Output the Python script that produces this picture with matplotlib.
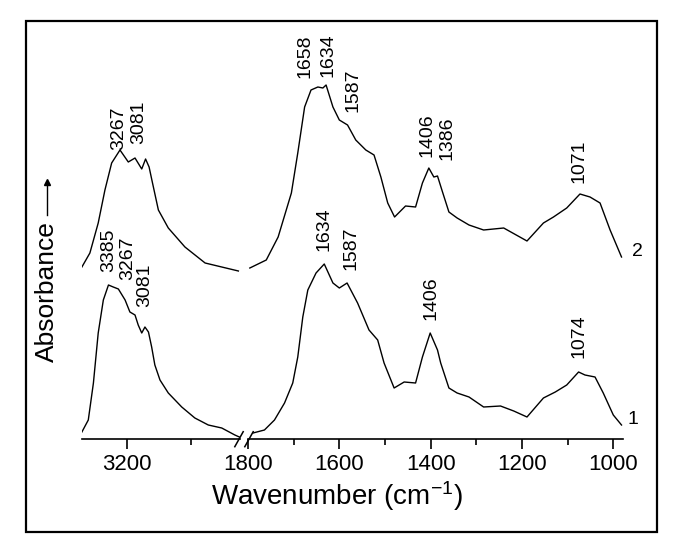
import matplotlib
matplotlib.use("Agg")
import matplotlib.pyplot as plt
from matplotlib.lines import Line2D
from matplotlib.patches import Rectangle

plt.rcParams['font.family'] = ['Liberation Sans', 'DejaVu Sans']
plt.rcParams['mathtext.default'] = 'regular'

# spectrum 1 (bottom trace), high-wavenumber window
wn1_hi = [3340, 3320, 3304, 3289, 3273, 3257, 3242, 3226, 3205, 3190, 3174, 3164,
          3153, 3143, 3132, 3122, 3112, 3096, 3070, 3028, 2987, 2945, 2903, 2862, 2848]
abs1_hi = [0.07, 0.19, 0.56, 1.06, 1.39, 1.54, 1.52, 1.50, 1.39, 1.27, 1.24, 1.14,
           1.06, 1.12, 1.07, 0.92, 0.74, 0.59, 0.46, 0.32, 0.21, 0.14, 0.11, 0.04, 0.02]
# spectrum 1, fingerprint window
wn1_lo = [1789, 1764, 1742, 1720, 1702, 1691, 1680, 1669, 1651, 1633, 1614, 1600,
          1583, 1560, 1535, 1516, 1502, 1480, 1458, 1433, 1418, 1401, 1385, 1378,
          1360, 1342, 1316, 1284, 1247, 1218, 1189, 1153, 1127, 1102, 1076, 1062,
          1040, 1022, 1000, 982]
abs1_lo = [0.06, 0.09, 0.19, 0.36, 0.56, 0.82, 1.22, 1.49, 1.66, 1.75, 1.56, 1.51,
           1.56, 1.36, 1.09, 0.99, 0.76, 0.51, 0.57, 0.56, 0.82, 1.06, 0.89, 0.76,
           0.51, 0.46, 0.42, 0.32, 0.33, 0.28, 0.22, 0.41, 0.47, 0.54, 0.67, 0.64,
           0.62, 0.46, 0.24, 0.14]

# spectrum 2 (top trace, offset), high-wavenumber window
wn2_hi = [3340, 3315, 3289, 3268, 3247, 3221, 3195, 3174, 3153, 3141, 3130, 3120,
          3101, 3070, 3018, 2955, 2903, 2851]
abs2_hi = [1.72, 1.86, 2.16, 2.49, 2.76, 2.89, 2.77, 2.81, 2.70, 2.80, 2.72, 2.57,
           2.29, 2.11, 1.92, 1.76, 1.72, 1.68]
# spectrum 2, fingerprint window
wn2_lo = [1796, 1760, 1734, 1705, 1691, 1676, 1662, 1647, 1636, 1629, 1614, 1600,
          1582, 1564, 1542, 1524, 1509, 1494, 1479, 1455, 1433, 1418, 1404, 1393,
          1385, 1374, 1360, 1342, 1316, 1284, 1240, 1189, 1153, 1131, 1102, 1073,
          1051, 1029, 1007, 982]
abs2_lo = [1.71, 1.79, 2.02, 2.46, 2.86, 3.32, 3.49, 3.52, 3.51, 3.54, 3.32, 3.19,
           3.14, 2.99, 2.89, 2.84, 2.62, 2.36, 2.22, 2.33, 2.32, 2.56, 2.71, 2.62,
           2.63, 2.47, 2.27, 2.21, 2.14, 2.09, 2.11, 1.98, 2.16, 2.22, 2.31, 2.45,
           2.42, 2.36, 2.09, 1.82]

# peak labels: (text, x on the drawn axis, bottom of the label)
labels_hi = [("3385", 3257, 1.67), ("3267", 3197, 1.59), ("3081", 3143, 1.32),
             ("3267", 3225, 2.89), ("3081", 3163, 2.955)]
labels_lo = [("1658", 1675, 3.61), ("1634", 1625, 3.62), ("1587", 1571, 3.27),
             ("1406", 1409, 2.82), ("1386", 1364, 2.79), ("1071", 1076, 2.56),
             ("1634", 1634, 1.88), ("1587", 1574, 1.69), ("1406", 1399, 1.19),
             ("1074", 1076, 0.81)]

W, H = 685, 554
fig = plt.figure(figsize=(W / 100, H / 100), dpi=100)


def px_axes(x0, x1, y_top, y_bot):
    return fig.add_axes([x0 / W, (H - y_bot) / H, (x1 - x0) / W, (y_bot - y_top) / H])


ax1 = px_axes(81.7, 239.5, 60, 439)
ax2 = px_axes(248, 622.7, 60, 439)
ax1.set_xlim(3340.6, 2847.5)
ax2.set_xlim(1800, 979.4)

for ax in (ax1, ax2):
    ax.set_ylim(0, 3.79)
    for s in ('top', 'right', 'left'):
        ax.spines[s].set_visible(False)
    ax.spines['bottom'].set_linewidth(1.2)
    ax.set_yticks([])
    ax.patch.set_alpha(0)
    ax.tick_params(axis='x', which='major', direction='out', length=7, width=1.2,
                   labelsize=16, pad=4)
    ax.tick_params(axis='x', which='minor', direction='out', length=4, width=1.2)

ax1.set_xticks([3200])
ax1.set_xticks([3000], minor=True)
ax2.set_xticks([1800, 1600, 1400, 1200, 1000])
ax2.set_xticks([1700, 1500, 1300, 1100], minor=True)

ax1.plot(wn1_hi, abs1_hi, color='black', lw=1.0)
ax1.plot(wn2_hi, abs2_hi, color='black', lw=1.0)
ax2.plot(wn1_lo, abs1_lo, color='black', lw=1.0)
ax2.plot(wn2_lo, abs2_lo, color='black', lw=1.0)

for txt, x, y in labels_hi:
    ax1.text(x, y, txt, rotation=90, ha='center', va='bottom', fontsize=14, clip_on=False)
for txt, x, y in labels_lo:
    ax2.text(x, y, txt, rotation=90, ha='center', va='bottom', fontsize=14, clip_on=False)

ax2.text(957, 0.19, "1", fontsize=14, ha='center', va='center', clip_on=False)
ax2.text(948, 1.87, "2", fontsize=14, ha='center', va='center', clip_on=False)

# axis break marks
for xc in (239, 249):
    fig.add_artist(Line2D([(xc - 4.2) / W, (xc + 4.2) / W],
                          [(H - 446.7) / H, (H - 431.7) / H], color='black', lw=1.1))

fig.text(337 / W, (H - 496) / H, "Wavenumber (cm$^{-1}$)", fontsize=20,
         ha='center', va='center')
fig.text(47 / W, (H - 292) / H, "Absorbance", fontsize=19, rotation=90,
         ha='center', va='center')
fig.add_artist(Line2D([47 / W, 47 / W], [(H - 215) / H, (H - 182) / H],
                      color='black', lw=1.0))
fig.add_artist(Line2D([47 / W], [(H - 182) / H], marker='^', markersize=4,
                      color='black'))

fig.add_artist(Rectangle((26 / W, (H - 532) / H), 631 / W, 511 / H, fill=False,
                         edgecolor='black', lw=1.6, transform=fig.transFigure))

fig.savefig("out.png", dpi=100)
